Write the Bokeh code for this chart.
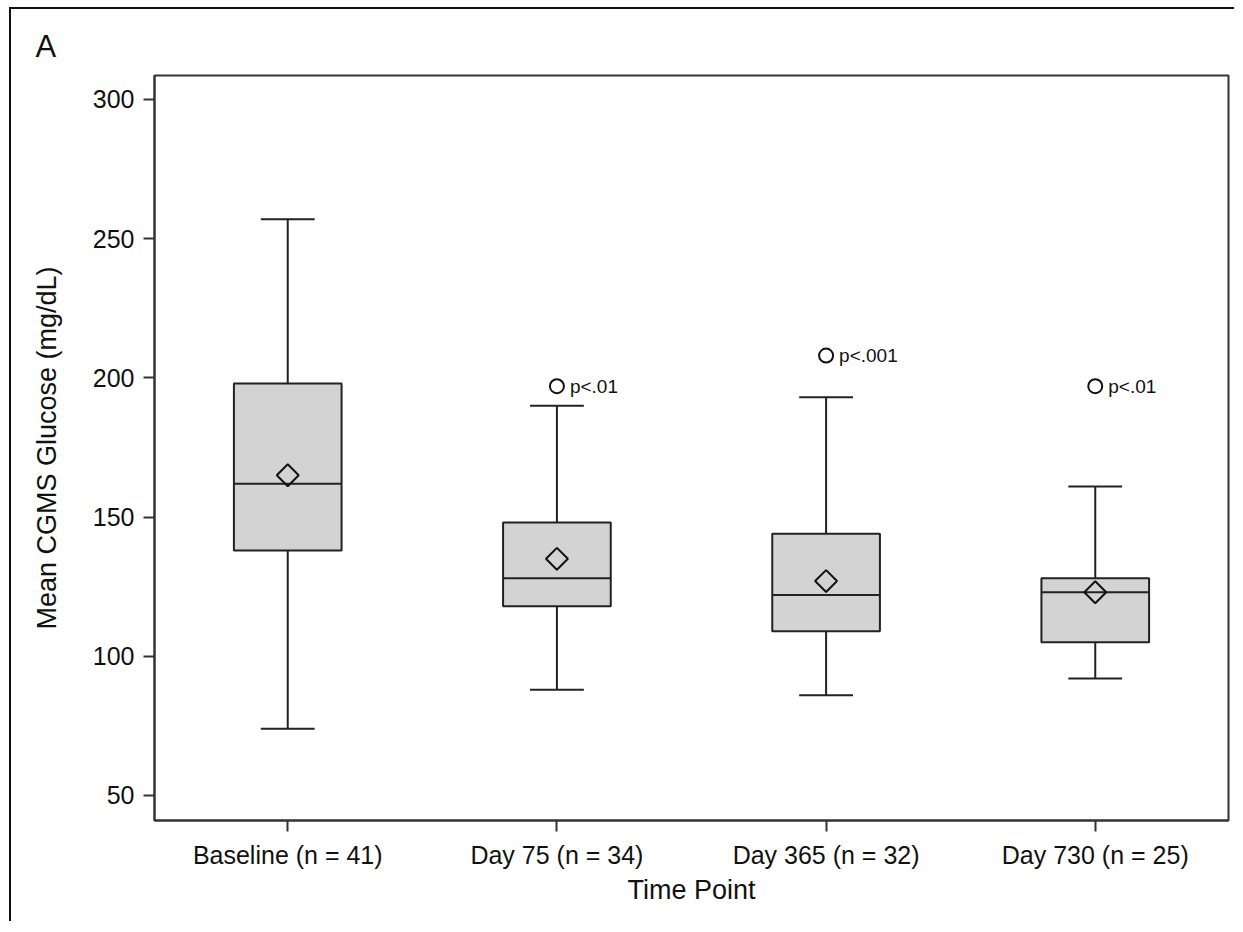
from bokeh.plotting import figure
from bokeh.models import Range1d, FixedTicker, ColumnDataSource
from bokeh.core.properties import value
from bokeh.embed import file_html
from bokeh.resources import INLINE
import math

# ---- data ----
categories = ["Baseline (n = 41)", "Day 75 (n = 34)", "Day 365 (n = 32)", "Day 730 (n = 25)"]
whisker_low = [74, 88, 86, 92]
q1 = [138, 118, 109, 105]
median = [162, 128, 122, 123]
q3 = [198, 148, 144, 128]
whisker_high = [257, 190, 193, 161]
mean = [165, 135, 127, 123]
outlier_cat = ["Day 75 (n = 34)", "Day 365 (n = 32)", "Day 730 (n = 25)"]
outlier_val = [197, 208, 197]
outlier_label = ["p<.01", "p<.001", "p<.01"]
y_ticks = [50, 100, 150, 200, 250, 300]

FONT = "Liberation Sans"
INK = "#222222"
BOX_W = 0.40
CAP_W = 0.20

xpos = [i + 1 for i in range(len(categories))]
src = ColumnDataSource(dict(
    x=xpos,
    x_box0=[x - BOX_W / 2 for x in xpos],
    x_box1=[x + BOX_W / 2 for x in xpos],
    x_cap0=[x - CAP_W / 2 for x in xpos],
    x_cap1=[x + CAP_W / 2 for x in xpos],
    low=whisker_low, q1=q1, med=median, q3=q3, high=whisker_high, mean=mean,
))
osrc = ColumnDataSource(dict(
    x=[categories.index(c) + 1 for c in outlier_cat],
    y=outlier_val,
    label=outlier_label,
))

p = figure(width=1225, height=914, output_backend="svg", toolbar_location=None,
           x_range=Range1d(0.505, 4.495), y_range=Range1d(41.0, 308.6),
           min_border_left=143, min_border_right=8, min_border_top=66, min_border_bottom=103)
p.styles = {"border-top": "2px solid #111111", "border-left": "2px solid #111111",
            "margin-left": "9px", "margin-top": "7px"}

p.grid.visible = False
p.outline_line_color = "#333333"
p.outline_line_width = 2
p.background_fill_color = "white"
p.border_fill_color = "white"

# whiskers
p.segment("x", "q3", "x", "high", source=src, line_color=INK, line_width=2)
p.segment("x", "low", "x", "q1", source=src, line_color=INK, line_width=2)
p.segment("x_cap0", "high", "x_cap1", "high", source=src, line_color=INK, line_width=2)
p.segment("x_cap0", "low", "x_cap1", "low", source=src, line_color=INK, line_width=2)
# boxes
p.vbar(x="x", width=BOX_W, bottom="q1", top="q3", source=src,
       fill_color="#d3d3d3", line_color=INK, line_width=2)
p.segment("x_box0", "med", "x_box1", "med", source=src, line_color=INK, line_width=2)
# means
p.scatter("x", "mean", source=src, marker="square", size=15.5, angle=math.pi / 4,
          fill_color=None, line_color="#111111", line_width=2)
# outliers + p values
p.scatter("x", "y", source=osrc, marker="circle", size=14,
          fill_color=None, line_color="#111111", line_width=2)
p.text("x", "y", text="label", source=osrc, x_offset=13, text_baseline="middle",
       text_align="left", text_font=value(FONT), text_font_size="19px", text_color="#111111")

# axes
for ax in (p.xaxis[0], p.yaxis[0]):
    ax.axis_line_color = "#333333"
    ax.axis_line_width = 2
    ax.major_tick_line_color = "#333333"
    ax.major_tick_line_width = 2
    ax.major_tick_out = 11
    ax.major_tick_in = 0
    ax.minor_tick_line_color = None
    ax.major_label_text_font = FONT
    ax.major_label_text_font_size = "25px"
    ax.major_label_text_color = "#111111"
    ax.axis_label_text_font = FONT
    ax.axis_label_text_font_size = "27px"
    ax.axis_label_text_font_style = "normal"
    ax.axis_label_text_color = "#111111"

p.xaxis.ticker = FixedTicker(ticks=xpos)
p.xaxis.major_label_overrides = {x: c for x, c in zip(xpos, categories)}
p.xaxis.axis_label = "Time Point"
p.xaxis.major_label_standoff = 9
p.xaxis.axis_label_standoff = 3

p.yaxis.ticker = FixedTicker(ticks=y_ticks)
p.yaxis.axis_label = "Mean CGMS Glucose (mg/dL)"
p.yaxis.major_label_standoff = 9
p.yaxis.axis_label_standoff = 28

p.title.text = "A"
p.title.text_font = FONT
p.title.text_font_size = "31px"
p.title.text_font_style = "normal"
p.title.text_color = "#111111"
p.title.align = "left"
p.title.offset = -119
p.title.standoff = 24

open("out.html", "w").write(file_html(p, INLINE))
